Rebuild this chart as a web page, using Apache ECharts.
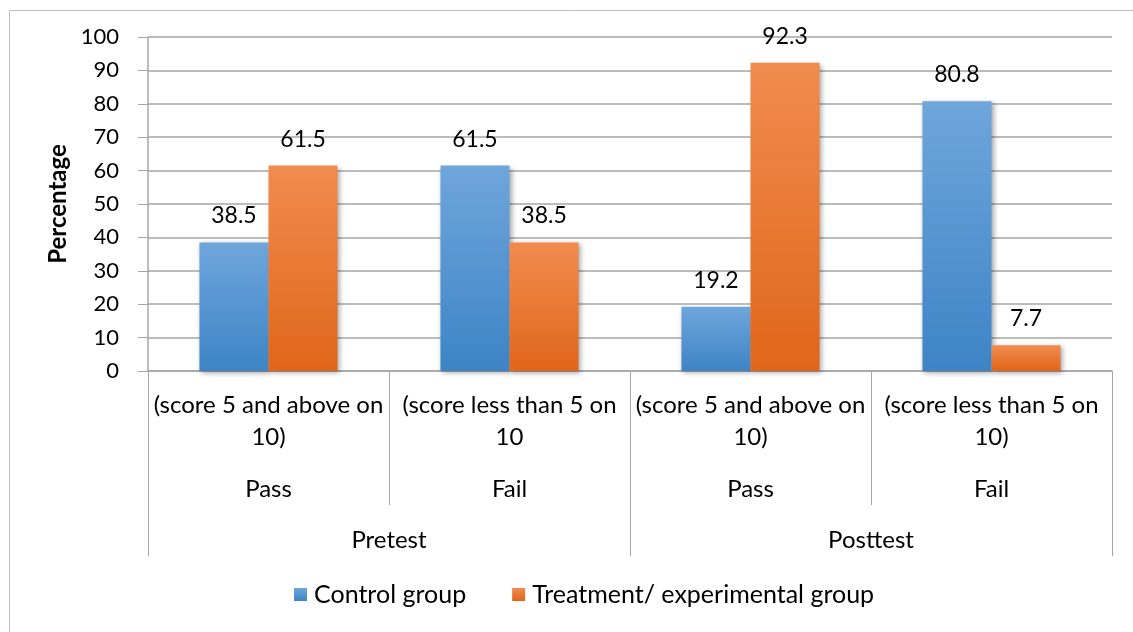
<!DOCTYPE html>
<html>
<head>
<meta charset="utf-8">
<script src="https://cdn.jsdelivr.net/npm/echarts@6/dist/echarts.min.js"></script>
<style>
  html, body { margin: 0; padding: 0; background: #fff; }
  #chart { width: 1133px; height: 632px; }
</style>
</head>
<body>
<div id="chart"></div>
<script>
// values
const scoreLabels = ['(score 5 and above on\n10)', '(score less than 5 on\n10', '(score 5 and above on\n10)', '(score less than 5 on\n10)'];
const resultLabels = ['Pass', 'Fail', 'Pass', 'Fail'];
const testLabels = ['Pretest', 'Posttest'];
const controlGroup = [38.5, 61.5, 19.2, 80.8];
const treatmentGroup = [61.5, 38.5, 92.3, 7.7];
const yTicks = [0, 10, 20, 30, 40, 50, 60, 70, 80, 90, 100];

const font = 'Lato, "Open Sans", sans-serif';
const gridColor = '#a6a6a6';

const chart = echarts.init(document.getElementById('chart'));

function grad(top, bottom) {
    return new echarts.graphic.LinearGradient(0, 0, 0, 1, [
        { offset: 0, color: top },
        { offset: 1, color: bottom }
    ]);
}

function barLabel() {
    return {
        show: true,
        position: 'top',
        distance: 15,
        color: '#000',
        fontSize: 23,
        fontFamily: font
    };
}

const catLabel = { interval: 0, fontSize: 24, lineHeight: 32, color: '#000', fontFamily: font, verticalAlign: 'top' };

const option = {
    animation: false,
    textStyle: { fontFamily: font },
    grid: { left: 148, right: 21, top: 37, bottom: 261 },
    legend: {
        top: 577,
        left: 289,
        itemWidth: 13,
        itemHeight: 13,
        itemGap: 46,
        icon: 'rect',
        textStyle: { fontSize: 25, color: '#000', fontFamily: font, padding: [0, 0, 0, 2] },
        data: ['Control group', 'Treatment/ experimental group']
    },
    xAxis: [
        {
            type: 'category',
            position: 'bottom',
            data: scoreLabels,
            axisLine: { lineStyle: { color: gridColor, width: 1.5 } },
            axisTick: { show: true, interval: 0, length: 134, lineStyle: { color: gridColor } },
            axisLabel: Object.assign({}, catLabel, { margin: 18 })
        },
        {
            type: 'category',
            position: 'bottom',
            data: resultLabels,
            axisLine: { show: false },
            axisTick: { show: false },
            axisLabel: Object.assign({}, catLabel, { margin: 102 })
        },
        {
            type: 'category',
            position: 'bottom',
            data: testLabels,
            axisLine: { show: false },
            axisTick: { show: true, interval: 0, length: 185, lineStyle: { color: gridColor } },
            axisLabel: Object.assign({}, catLabel, { margin: 153 })
        }
    ],
    yAxis: {
        type: 'value',
        min: yTicks[0],
        max: yTicks[yTicks.length - 1],
        interval: 10,
        name: 'Percentage',
        nameLocation: 'middle',
        nameRotate: 90,
        nameGap: 75,
        nameTextStyle: { fontSize: 24, fontWeight: 'bold', color: '#000', fontFamily: font },
        axisLine: { show: true, lineStyle: { color: gridColor, width: 1.5 } },
        axisTick: { show: true, length: 10, lineStyle: { color: gridColor } },
        axisLabel: { fontSize: 22, color: '#000', margin: 29, fontFamily: font },
        splitLine: { lineStyle: { color: gridColor, width: 1.5 } }
    },
    series: [
        {
            name: 'Control group',
            type: 'bar',
            xAxisIndex: 0,
            data: controlGroup,
            barGap: '0%',
            barCategoryGap: '42.7%',
            itemStyle: {
                color: grad('#6fa6dc', '#3d84c6'),
                shadowBlur: 5,
                shadowColor: 'rgba(0,0,0,0.35)',
                shadowOffsetX: 2,
                shadowOffsetY: 2
            },
            label: barLabel()
        },
        {
            name: 'Treatment/ experimental group',
            type: 'bar',
            xAxisIndex: 0,
            data: treatmentGroup,
            itemStyle: {
                color: grad('#f18c4f', '#e0661a'),
                shadowBlur: 5,
                shadowColor: 'rgba(0,0,0,0.35)',
                shadowOffsetX: 2,
                shadowOffsetY: 2
            },
            label: barLabel()
        }
    ],
    graphic: [{
        type: 'rect',
        left: 7,
        top: 8,
        shape: { width: 1130, height: 630 },
        style: { fill: 'none', stroke: '#bfbfbf', lineWidth: 1 },
        silent: true
    }]
};

chart.setOption(option);
</script>
</body>
</html>
